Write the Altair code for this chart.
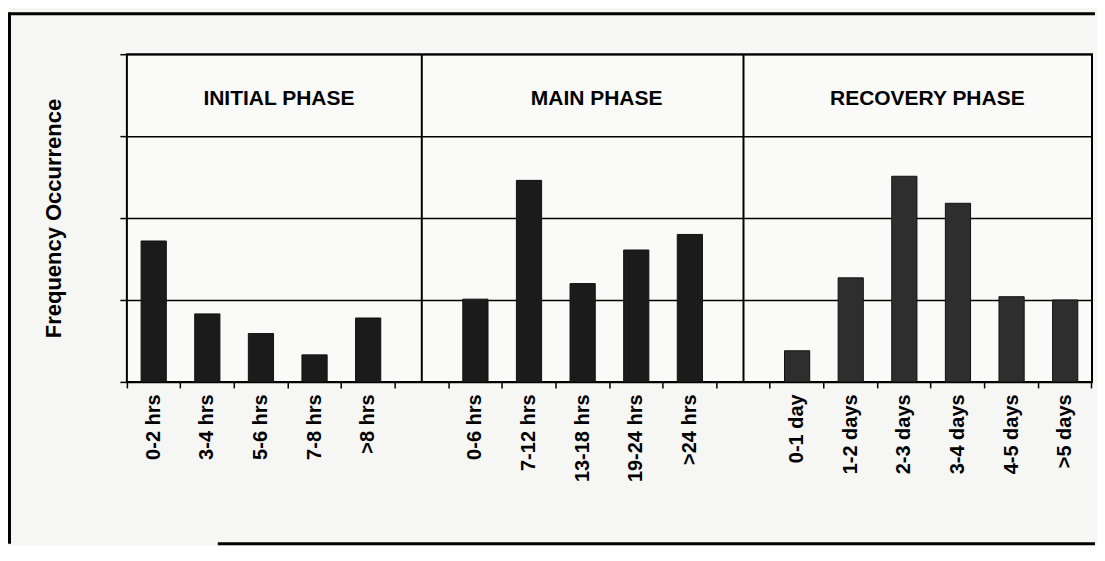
import altair as alt
import pandas as pd

# ---- data ----
initial_labels = ["0-2 hrs", "3-4 hrs", "5-6 hrs", "7-8 hrs", ">8 hrs"]
initial_values = [1.72, 0.83, 0.59, 0.33, 0.78]
main_labels = ["0-6 hrs", "7-12 hrs", "13-18 hrs", "19-24 hrs", ">24 hrs"]
main_values = [1.01, 2.46, 1.20, 1.61, 1.80]
recovery_labels = ["0-1 day", "1-2 days", "2-3 days", "3-4 days", "4-5 days", ">5 days"]
recovery_values = [0.38, 1.27, 2.51, 2.18, 1.04, 1.00]
gap_labels = ["gap1", "gap2"]
phase_names = ["INITIAL PHASE", "MAIN PHASE", "RECOVERY PHASE"]

domain = initial_labels + [gap_labels[0]] + main_labels + [gap_labels[1]] + recovery_labels

rows = []
for lab, v in zip(initial_labels, initial_values):
    rows.append({"cat": lab, "value": v, "phase": phase_names[0]})
for lab, v in zip(main_labels, main_values):
    rows.append({"cat": lab, "value": v, "phase": phase_names[1]})
for lab, v in zip(recovery_labels, recovery_values):
    rows.append({"cat": lab, "value": v, "phase": phase_names[2]})
bars_df = pd.DataFrame(rows)
gaps_df = pd.DataFrame({"cat": gap_labels})
one_df = pd.DataFrame({"a": [0]})

FONT = "Liberation Sans, Arial, Helvetica, sans-serif"
W = 966

x_scale = alt.Scale(domain=domain, paddingInner=0, paddingOuter=0)
y_scale = alt.Scale(domain=[0, 4], nice=False, zero=True)

x_axis = alt.Axis(
    title=None,
    labelAngle=270,
    labelAlign="right",
    labelBaseline="middle",
    labelFont=FONT,
    labelFontSize=20,
    labelFontWeight="bold",
    labelColor="black",
    labelPadding=6,
    labelExpr="indexof(['gap1','gap2'], datum.value) >= 0 ? '' : datum.label",
    bandPosition=1,
    tickExtra=True,
    ticks=True,
    tickSize=6,
    tickColor="black",
    tickWidth=1.5,
    domain=False,
    grid=False,
)
y_axis = alt.Axis(
    title="Frequency Occurrence",
    titleFont=FONT,
    titleFontSize=22,
    titleFontWeight="bold",
    titleColor="black",
    titlePadding=54,
    labels=False,
    values=[0, 1, 2, 3, 4],
    ticks=True,
    tickSize=7,
    tickColor="black",
    tickWidth=1.5,
    domain=False,
    grid=True,
    gridColor="black",
    gridWidth=1.5,
    gridOpacity=1,
)

bars = alt.Chart(bars_df).mark_bar(width={"band": 0.47}, stroke="#111111", strokeWidth=1).encode(
    x=alt.X("cat:N", scale=x_scale, axis=x_axis, sort=domain),
    y=alt.Y("value:Q", scale=y_scale, axis=y_axis),
    color=alt.Color(
        "phase:N",
        scale=alt.Scale(domain=phase_names, range=["#1b1b1b", "#1b1b1b", "#2e2e2e"]),
        legend=None,
    ),
)

dividers = alt.Chart(gaps_df).mark_rule(color="black", strokeWidth=2).encode(
    x=alt.X("cat:N", scale=x_scale, sort=domain),
    y=alt.datum(0),
    y2=alt.datum(4),
)


def phase_text(name, anchor, dx):
    return alt.Chart(pd.DataFrame({"cat": [anchor], "label": [name], "y": [3.45]})).mark_text(
        font=FONT, fontSize=21, fontWeight="bold", color="black", dx=dx, baseline="middle", align="center"
    ).encode(
        x=alt.X("cat:N", scale=x_scale, sort=domain),
        y=alt.Y("y:Q", scale=y_scale),
        text="label:N",
    )


t1 = phase_text(phase_names[0], initial_labels[2], 18)
t2 = phase_text(phase_names[1], main_labels[2], 14)
t3 = phase_text(phase_names[2], recovery_labels[2], 23)

# outer page frame (decoration of the scanned figure)
frame_top = alt.Chart(one_df).mark_rule(color="black", strokeWidth=3).encode(
    x=alt.value(-117.5), x2=alt.value(W + 3), y=alt.value(-40.5)
)
frame_left = alt.Chart(one_df).mark_rule(color="black", strokeWidth=3).encode(
    x=alt.value(-117.5), y=alt.value(-42), y2=alt.value(490)
)
frame_bottom = alt.Chart(one_df).mark_rule(color="black", strokeWidth=3).encode(
    x=alt.value(91), x2=alt.value(W + 3), y=alt.value(490)
)

chart = alt.layer(
    bars, dividers, t1, t2, t3, frame_top, frame_left, frame_bottom
).properties(
    width=W,
    height=328,
    padding={"left": 0, "top": 2, "right": 0, "bottom": 0},
    background="#f6f6f4",
).configure_view(
    stroke="black", strokeWidth=2, fill="#fafaf8"
)

chart.save("out.html", embed_options={"renderer": "svg", "actions": False})
